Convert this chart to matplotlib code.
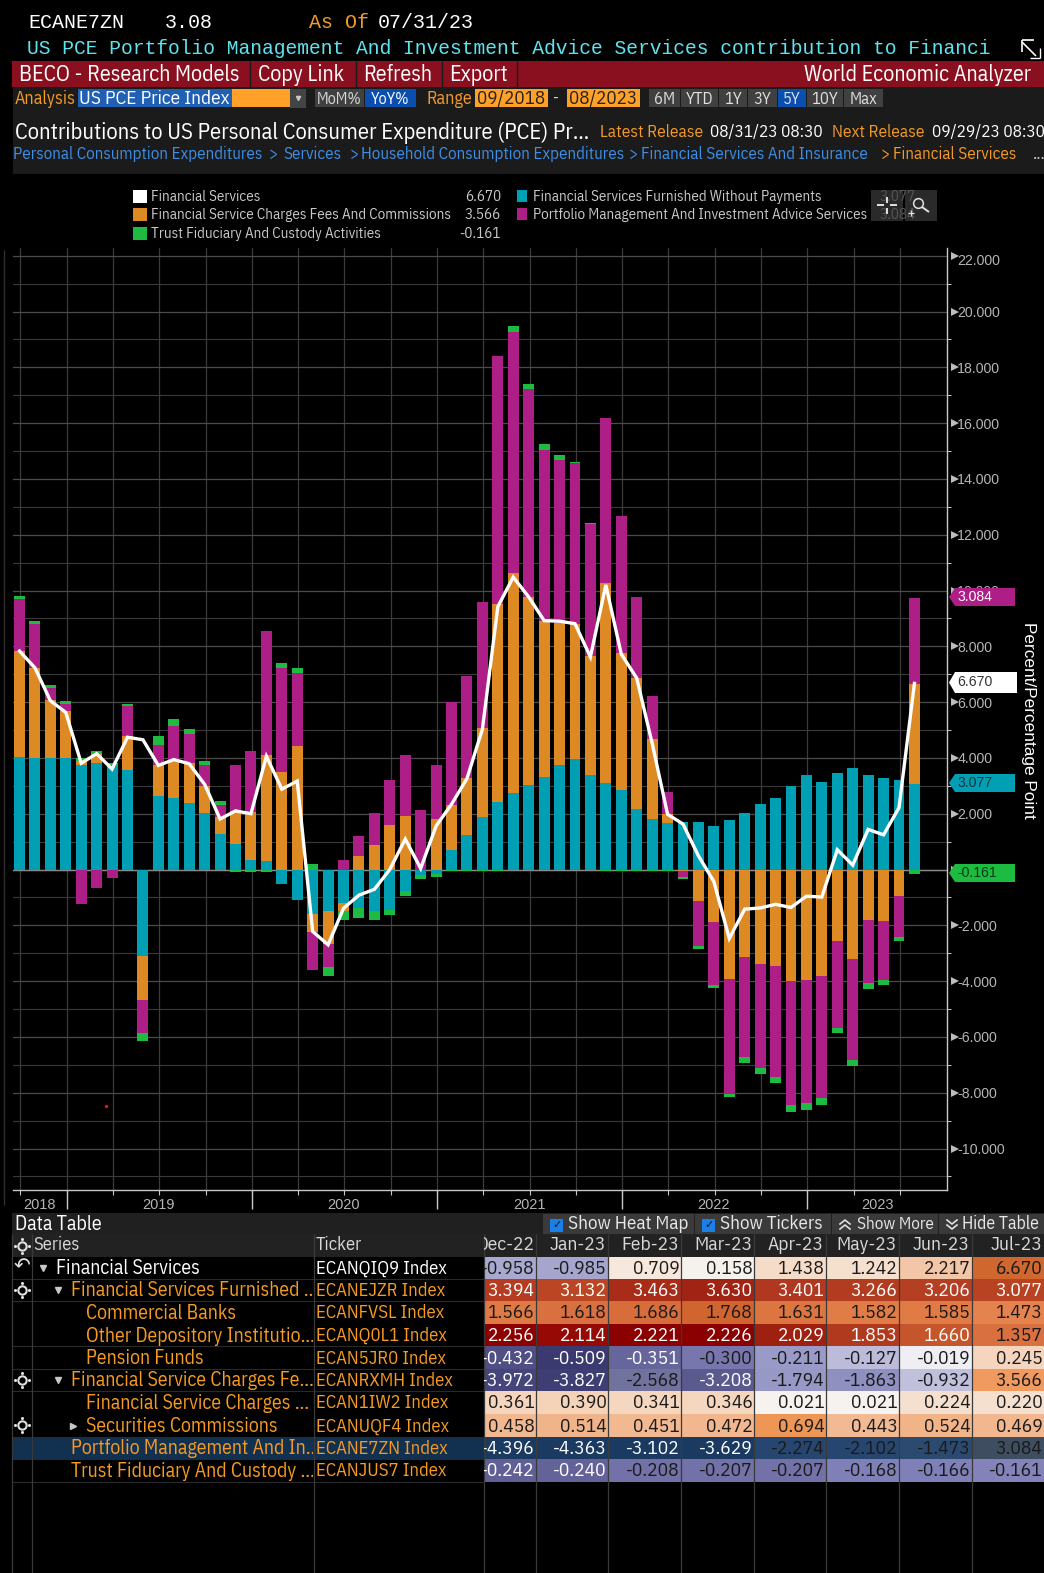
import matplotlib
matplotlib.use('Agg')
import numpy as np
from matplotlib import pyplot as plt, font_manager
from matplotlib.patches import Rectangle, Polygon
from matplotlib.transforms import ScaledTranslation

W, H = 1044, 1573
# the terminal font is condensed; Lato at a smaller size is the stand-in if Plex Condensed is not there
installed = {f.name for f in font_manager.fontManager.ttflist}
if 'IBM Plex Sans Condensed' in installed:
    NARROW, SCALE = ['IBM Plex Sans Condensed', 'DejaVu Sans'], 1.0
else:
    NARROW, SCALE = ['Lato', 'DejaVu Sans'], 0.93
MONO = ['Liberation Mono', 'DejaVu Sans Mono']
PLAIN = ['Liberation Sans', 'DejaVu Sans']
plt.rcParams['font.family'] = NARROW

# monthly contributions, Sep-18 to Jul-23
furnished = [4.05, 3.98, 4.01, 3.98, 3.76, 3.80, 3.73, 3.58, -3.10, 2.65, 2.58, 2.40, 2.01, 1.26, 0.90,
             0.33, 0.30, -0.52, -1.09, -1.59, -1.48, -1.21, -1.37, -1.49, -1.44, -0.76, -0.21, -0.16, 0.69,
             1.23, 1.88, 2.42, 2.73, 3.03, 3.31, 3.74, 3.95, 3.39, 3.10, 2.85, 2.17, 1.81, 1.65, 1.69, 1.69,
             1.56, 1.77, 2.01, 2.35, 2.56, 2.99, 3.394, 3.132, 3.463, 3.630, 3.401, 3.266, 3.206, 3.077]
charges = [3.78, 3.25, 2.07, 1.71, 0.14, 0.35, 0.0, 1.22, -1.57, 1.11, 1.32, 1.40, 1.00, 0.61, 1.18,
           1.73, 3.82, 3.51, 4.44, -0.66, -1.18, -0.27, 0.49, 0.88, 1.60, 1.91, 0.0, 1.81, 1.62,
           2.04, 3.19, 7.08, 7.89, 6.73, 5.59, 5.11, 4.86, 4.26, 7.17, 4.91, 4.69, 2.86, 0.34, -0.05, -1.14,
           -1.89, -3.94, -3.15, -3.40, -3.47, -4.00, -3.972, -3.827, -2.568, -3.208, -1.794, -1.863, -0.932, 3.566]
portfolio = [1.86, 1.57, 0.43, 0.25, -1.22, -0.67, -0.31, 1.05, -1.19, 0.72, 1.23, 1.07, 0.75, 0.43, 1.65,
             2.17, 4.43, 3.72, 2.61, -1.35, -0.83, 0.35, 0.72, 1.15, 1.60, 2.20, 2.12, 1.93, 3.71,
             3.66, 4.52, 8.90, 8.63, 7.45, 6.13, 5.84, 5.75, 4.73, 5.93, 4.90, 2.90, 1.55, 0.79, -0.21, -1.61,
             -2.26, -4.12, -3.58, -3.72, -3.97, -4.44, -4.396, -4.363, -3.102, -3.629, -2.274, -2.102, -1.473, 3.084]
trust = [0.11, 0.10, 0.11, 0.11, 0.11, 0.11, 0.10, 0.09, -0.29, 0.32, 0.27, 0.18, 0.14, 0.14, -0.08,
         -0.08, -0.08, 0.17, 0.18, 0.20, -0.32, -0.32, -0.36, -0.32, -0.19, -0.19, -0.13, -0.11, -0.05,
         -0.06, -0.06, -0.06, 0.23, 0.18, 0.21, 0.15, 0.05, 0.05, -0.05, -0.05, -0.05, -0.05, -0.05, -0.09, -0.10,
         -0.11, -0.10, -0.21, -0.21, -0.23, -0.26, -0.242, -0.240, -0.208, -0.207, -0.207, -0.168, -0.166, -0.161]
total = [7.83, 7.23, 6.05, 5.63, 3.81, 4.15, 3.60, 4.74, 4.65, 3.73, 3.94, 3.79, 3.05, 1.81, 2.10,
         2.00, 4.06, 2.88, 3.17, -2.22, -2.70, -1.39, -0.92, -0.71, 0.0, 1.09, 0.04, 1.56, 2.34,
         3.26, 5.03, 9.42, 10.48, 9.77, 8.92, 8.90, 8.81, 7.62, 10.20, 7.72, 6.86, 4.53, 1.98, 1.63, 0.49,
         -0.43, -2.47, -1.42, -1.38, -1.25, -1.36, -0.958, -0.985, 0.709, 0.158, 1.438, 1.242, 2.217, 6.670]

TEAL, ORANGE, MAGENTA, GREEN = '#019fb4', '#dd8a25', '#ad1e87', '#1dbb3f'

# table
months = ['Dec-22', 'Jan-23', 'Feb-23', 'Mar-23', 'Apr-23', 'May-23', 'Jun-23', 'Jul-23']
series_names = ['Financial Services', 'Financial Services Furnished …', 'Commercial Banks',
                'Other Depository Institutio…', 'Pension Funds', 'Financial Service Charges Fe…',
                'Financial Service Charges …', 'Securities Commissions', 'Portfolio Management And In…',
                'Trust Fiduciary And Custody …']
tickers = ['ECANQIQ9 Index', 'ECANEJZR Index', 'ECANFVSL Index', 'ECANQ0L1 Index', 'ECAN5JR0 Index',
           'ECANRXMH Index', 'ECAN1IW2 Index', 'ECANUQF4 Index', 'ECANE7ZN Index', 'ECANJUS7 Index']
table_values = [
    ['-0.958', '-0.985', '0.709', '0.158', '1.438', '1.242', '2.217', '6.670'],
    ['3.394', '3.132', '3.463', '3.630', '3.401', '3.266', '3.206', '3.077'],
    ['1.566', '1.618', '1.686', '1.768', '1.631', '1.582', '1.585', '1.473'],
    ['2.256', '2.114', '2.221', '2.226', '2.029', '1.853', '1.660', '1.357'],
    ['-0.432', '-0.509', '-0.351', '-0.300', '-0.211', '-0.127', '-0.019', '0.245'],
    ['-3.972', '-3.827', '-2.568', '-3.208', '-1.794', '-1.863', '-0.932', '3.566'],
    ['0.361', '0.390', '0.341', '0.346', '0.021', '0.021', '0.224', '0.220'],
    ['0.458', '0.514', '0.451', '0.472', '0.694', '0.443', '0.524', '0.469'],
    ['-4.396', '-4.363', '-3.102', '-3.629', '-2.274', '-2.102', '-1.473', '3.084'],
    ['-0.242', '-0.240', '-0.208', '-0.207', '-0.207', '-0.168', '-0.166', '-0.161'],
]
heat_colors = [
    ['#a9a9d0', '#a5a5cd', '#f6e8dd', '#f5f2ee', '#f5dcc9', '#f5dfcd', '#f2c6a6', '#d0672f'],
    ['#b53c20', '#bb4623', '#a82c18', '#a02314', '#b03720', '#b23c20', '#b53f22', '#b84322'],
    ['#e07a45', '#d97040', '#d86d3c', '#d0652f', '#dc7540', '#e07c45', '#e07b45', '#e5834f'],
    ['#8b0000', '#950a04', '#8b0000', '#8b0000', '#a0200f', '#b03a1d', '#c5562b', '#d97040'],
    ['#4f4f85', '#3a3a70', '#66669d', '#7777ad', '#9a9ac8', '#bcbcda', '#efeff3', '#f5d5bd'],
    ['#45457c', '#3e3e75', '#72729f', '#5a5a8f', '#9898c6', '#8f8fc0', '#c0c0dc', '#f09a5f'],
    ['#f5d5bd', '#f5d3b9', '#f5d7bf', '#f5d6be', '#f5f2ef', '#f5f2ef', '#f5e0d0', '#f5e0d0'],
    ['#f2b990', '#f0b48a', '#f2b990', '#f2b78e', '#ee9655', '#f2ba93', '#f0b488', '#f2b78e'],
    ['#1b3a62', '#1b3a62', '#1b3a62', '#1b3a62', '#27466f', '#27466f', '#2c4a70', '#3e4d60'],
    ['#606096', '#63639a', '#7272a8', '#7272a8', '#7272a8', '#8080b8', '#8080b8', '#8383ba'],
]
white_cells = [[], range(8), [], range(7), range(3), [0, 1, 3], [], [], range(4), [0, 1]]

fig = plt.figure(figsize=(W / 100, H / 100), dpi=100, facecolor='black')


def axes_from_pixels(left, top, right, bottom):
    return [left / W, 1 - bottom / H, (right - left) / W, (bottom - top) / H]


# --- chart ---
px_left, px_right, px_top, px_bottom = 13, 947.5, 248, 1190
bar_x0, bar_step = 19.5, 15.43
zero_y, unit_y = 869.5, 27.9

ax = fig.add_axes(axes_from_pixels(px_left, px_top, px_right, px_bottom), facecolor='black')
ax.set_xlim((px_left - bar_x0) / bar_step, (px_right - bar_x0) / bar_step)
ax.set_ylim((zero_y - px_bottom) / unit_y, (zero_y - px_top) / unit_y)

x = np.arange(len(total))
pos_base = np.zeros(len(total))
neg_base = np.zeros(len(total))
for values, color in [(furnished, TEAL), (charges, ORANGE), (portfolio, MAGENTA), (trust, GREEN)]:
    v = np.array(values)
    base = np.where(v >= 0, pos_base, neg_base)
    ax.bar(x, v, 0.71, bottom=base, color=color, linewidth=0, zorder=3)
    pos_base += np.where(v >= 0, v, 0)
    neg_base += np.where(v < 0, v, 0)
ax.plot(x, total, color='white', linewidth=2.4, zorder=4, solid_joinstyle='miter')
ax.axhline(0, color='#8a8a8a', linewidth=1, zorder=2)

ax.set_yticks(np.arange(-10, 23, 2))
ax.set_yticks(np.arange(-11, 22, 2), minor=True)
ax.set_yticklabels(['%.3f' % v for v in np.arange(-10, 23, 2)])
ax.yaxis.tick_right()
ax.set_xticks(np.arange(0, 60, 3) + 0.06)
ax.set_xticklabels([])
ax.grid(True, which='major', axis='y', color='#4b4b4b', linewidth=0.9, zorder=1)
ax.grid(True, which='minor', axis='y', color='#3a3a3a', linewidth=0.8, zorder=1)
ax.grid(True, which='major', axis='x', color='#3c3c3c', linewidth=0.9, zorder=1)
ax.tick_params(axis='y', which='major', length=0, pad=7, labelsize=10.2, labelcolor='#b4b4b4')
ax.tick_params(axis='y', which='minor', length=3, width=0.7, color='#c8c8c8')
ax.tick_params(axis='x', which='major', length=3.5, width=0.8, color='#c8c8c8')
for lbl in ax.get_yticklabels():
    lbl.set_family(PLAIN)
top_label = ax.get_yticklabels()[-1]
top_label.set_transform(top_label.get_transform() + ScaledTranslation(0, -4 / 100, fig.dpi_scale_trans))
for side in ['top', 'left']:
    ax.spines[side].set_visible(False)
for side in ['right', 'bottom']:
    ax.spines[side].set_color('#c8c8c8')
    ax.spines[side].set_linewidth(1)
# triangle ticks on the right axis
ax.plot(np.ones(17) + 0.0075, np.arange(-10, 23, 2), linestyle='none', marker='>', markersize=5.5,
        color='#bdbdbd', markeredgewidth=0, transform=ax.get_yaxis_transform(), clip_on=False, zorder=5)
# year separators below the axis
ax.vlines(np.arange(3, 60, 12) + 0.06, -19 / (px_bottom - px_top), 0, color='#c8c8c8', linewidth=1,
          transform=ax.get_xaxis_transform(), clip_on=False)
ax.yaxis.set_label_position('right')
ax.set_ylabel('Percent/Percentage Point', rotation=270, color='white', fontsize=12.4, family=PLAIN)
ax.yaxis.set_label_coords((1036 - px_left) / (px_right - px_left), (px_bottom - 720) / (px_bottom - px_top))

# --- everything around the chart, in pixel coordinates ---
ov = fig.add_axes([0, 0, 1, 1], zorder=10)
ov.set_xlim(0, W)
ov.set_ylim(H, 0)
ov.axis('off')
ov.patch.set_alpha(0)


def box(x0, y0, x1, y1, color, **kw):
    ov.add_patch(Rectangle((x0, y0), x1 - x0, y1 - y0, facecolor=color, edgecolor='none', **kw))


def txt(x, y, s, color='white', px=16, ha='left', family=None, **kw):
    # narrow text sits about a pixel high with va=center
    if family:
        return ov.text(x, y, s, color=color, fontsize=px * 0.72, ha=ha, va='center', family=family, **kw)
    return ov.text(x, y + 1, s, color=color, fontsize=px * 0.72 * SCALE, ha=ha, va='center', family=NARROW, **kw)


def clipped(t, x0, y0, x1, y1):
    t.set_clip_on(True)
    t.set_clip_path(Rectangle((x0, y0), x1 - x0, y1 - y0, transform=ov.transData))


def line(x0, y0, x1, y1, color='#333333', lw=0.8, **kw):
    ov.plot([x0, x1], [y0, y1], color=color, linewidth=lw, solid_capstyle='butt', **kw)


AMBER = '#f39a28'
CYAN = '#5de3ee'
LINK = '#3e8fe8'

# header
txt(28, 22, 'ECANE7ZN', px=20, family=MONO)
txt(165, 22, '3.08', px=20, family=MONO)
txt(309, 22, 'As Of', AMBER, px=20, family=MONO)
txt(378, 22, '07/31/23', px=20, family=MONO)
txt(27, 48, 'US PCE Portfolio Management And Investment Advice Services contribution to Financi',
    CYAN, px=19.7, family=MONO)
line(1022, 40, 1034, 40, 'white', 1.2)
line(1022, 40, 1022, 52, 'white', 1.2)
line(1022, 42, 1036, 56, 'white', 1.2)
line(1030, 58, 1040, 58, 'white', 1.0)
line(1040, 48, 1040, 58, 'white', 1.0)

box(12, 61, W, 87, '#8a1020')
for sx in [250, 356, 442, 517]:
    line(sx, 61, sx, 87, '#1a1a1a', 1)
txt(19, 74, 'BECO - Research Models', px=22)
txt(258, 74, 'Copy Link', px=22)
txt(363, 74, 'Refresh', px=22)
txt(449, 74, 'Export', px=22)
txt(1031, 74, 'World Economic Analyzer', px=22, ha='right')

box(13, 87, W, 174, '#1b1b1b')
txt(15, 98, 'Analysis', AMBER, px=18)
box(78, 89, 232, 107, '#1f5fb4')
box(232, 89, 290, 107, '#ffa028')
box(290, 89, 306, 108, '#444444')
txt(79, 98, 'US PCE Price Index', px=19.3)
ov.plot([298], [98], marker='v', markersize=3, color='#c8c8c8', linestyle='none')
box(315, 89, 364, 107, '#404040')
txt(339, 98, 'MoM%', '#d8d8d8', px=16, ha='center')
box(365, 89, 416, 107, '#0a4fb0')
txt(390, 98, 'YoY%', 'white', px=16, ha='center')
txt(427, 98, 'Range', AMBER, px=18)
box(475, 89, 548, 107, '#ffa028')
txt(511, 98, '09/2018', '#222222', px=19, ha='center')
txt(556, 98, '-', '#d8d8d8', px=16, ha='center')
box(567, 89, 640, 107, '#ffa028')
txt(603, 98, '08/2023', '#222222', px=19, ha='center')
for bx0, bx1, label, col in [(649, 680, '6M', '#404040'), (681, 718, 'YTD', '#404040'), (719, 747, '1Y', '#404040'),
                             (748, 777, '3Y', '#404040'), (778, 806, '5Y', '#0a4fb0'), (807, 843, '10Y', '#404040'),
                             (844, 883, 'Max', '#404040')]:
    box(bx0, 89, bx1, 107, col)
    txt((bx0 + bx1) / 2, 98, label, '#e0e0e0', px=16.5, ha='center')

txt(15, 132, 'Contributions to US Personal Consumer Expenditure (PCE) Pr…', px=22.6)
txt(600, 131, 'Latest Release', AMBER, px=17.2)
txt(710, 131, '08/31/23 08:30', px=17.2)
txt(832, 131, 'Next Release', AMBER, px=17.2)
txt(932, 131, '09/29/23 08:30', px=17.2)
crumbs = [(13, 'Personal Consumption Expenditures', LINK), (269, '>', LINK), (283, 'Services', LINK), (350, '>', LINK),
          (361, 'Household Consumption Expenditures', LINK), (629, '>', LINK),
          (641, 'Financial Services And Insurance', LINK), (881, '>', AMBER), (893, 'Financial Services', AMBER),
          (1033, '...', '#d0d0d0')]
for cx, label, col in crumbs:
    txt(cx, 153, label, col, px=16.9)

# legend
LEG = '#c9c9c9'
legend_rows = [(196, 133, 'white', 'Financial Services', '6.670'),
               (214, 133, ORANGE, 'Financial Service Charges Fees And Commissions', '3.566'),
               (233, 133, GREEN, 'Trust Fiduciary And Custody Activities', '-0.161')]
for ly, lx, col, label, val in legend_rows:
    box(lx, ly - 6.5, lx + 13.5, ly + 6.5, col)
    txt(151, ly, label, LEG, px=15)
    txt(501, ly, val, LEG, px=15, ha='right')
for ly, col, label in [(196, TEAL, 'Financial Services Furnished Without Payments'),
                       (214, MAGENTA, 'Portfolio Management And Investment Advice Services')]:
    box(517, ly - 6, 527, ly + 6, col)
    txt(533, ly, label, LEG, px=15)
box(871, 190, 903, 221, '#2a2a2a', zorder=4)
box(905, 190, 937, 221, '#2a2a2a', zorder=4)
txt(879, 196, '3.077', '#555555', px=15, zorder=5)
txt(879, 214, '3.084', '#555555', px=15, zorder=5)
for x0, y0, x1, y1 in [(877, 205, 884, 205), (890, 205, 897, 205), (887, 197, 887, 203), (887, 208, 887, 214)]:
    line(x0, y0, x1, y1, 'white', 1.2, zorder=6)
ov.plot([918], [203], marker='o', markersize=7, markerfacecolor='none', markeredgecolor='#e0e0e0',
        markeredgewidth=1.1, linestyle='none', zorder=6)
line(922, 207, 929, 212, '#e0e0e0', 1.4, zorder=6)
line(908, 213, 914, 213, '#e0e0e0', 0.9, zorder=6)
line(911, 210, 911, 216, '#e0e0e0', 0.9, zorder=6)

# value tags on the right of the chart
for ya, yb, xr, col, label, tcol in [(588, 606, 1015, MAGENTA, '3.084', 'white'), (672, 693, 1017, 'white', '6.670', '#333333'),
                                     (774, 792, 1015, TEAL, '3.077', '#10343a'), (864, 882, 1015, GREEN, '-0.161', '#0c3a18')]:
    ov.add_patch(Polygon([(949, (ya + yb) / 2), (955, ya), (xr, ya), (xr, yb), (955, yb)], facecolor=col, edgecolor='none'))
    txt(957, (ya + yb) / 2, label, tcol, px=14, family=PLAIN)

# stray red dot and left rule of the chart
ov.plot([106], [1105.5], marker='o', markersize=2.5, color='#e8101a', markeredgewidth=0, linestyle='none')
line(4, 250, 4, 1205, '#2e2e2e', 1)

year_labels = ['2018', '2019', '2020', '2021', '2022', '2023']
year_pos = [39, 158, 344, 529, 714, 877]
for yx, label in zip(year_pos, year_labels):
    txt(yx, 1205, label, '#b4b4b4', px=14.5, ha='center', family=PLAIN)

# data table
box(12, 1213, W, 1234, '#202020')
txt(15, 1223, 'Data Table', px=20)
for bx0, bx1, label, tick, tx, tpx in [(543, 694, 'Show Heat Map', True, 568, 19), (695, 831, 'Show Tickers', True, 720, 19),
                                       (832, 938, 'Show More', False, 857, 17), (939, W, 'Hide Table', False, 962, 17.6)]:
    box(bx0, 1214, bx1, 1234, '#3a3a3a')
    txt(tx, 1223, label, '#e8e8e8', px=tpx)
    if tick:
        box(bx0 + 7, 1219, bx0 + 20, 1232, '#1c7fe8')
        txt(bx0 + 13.5, 1225, '✓', '#101010', px=11, ha='center', family=['DejaVu Sans'])
    else:
        cx = bx0 + 13
        sign = -1 if label == 'Show More' else 1
        for cy in [1220, 1225]:
            ov.plot([cx - 5, cx, cx + 5], [cy + 2 - sign * 2, cy + 2 + sign * 2, cy + 2 - sign * 2],
                    color='#e0e0e0', linewidth=1.2)

box(12, 1234, W, 1257, '#222222')
row_y = [1257, 1279, 1301, 1324, 1346, 1369, 1391, 1414, 1437, 1459, 1482]
col_x = [484, 536, 608, 681, 754, 826, 899, 972, W]
name_x = [56, 71, 86, 86, 86, 71, 86, 86, 71, 71]
box(12, row_y[8], 484, row_y[9], '#12304f')

txt(33, 1244, 'Series', '#d8d8d8', px=18.5)
txt(316, 1244, 'Ticker', '#d8d8d8', px=18.5)
for j, m in enumerate(months):
    t = txt(col_x[j + 1] - 2, 1244, m, '#d8d8d8', px=19.5, ha='right')
    clipped(t, col_x[j], 1234, col_x[j + 1], 1257)

for i, name in enumerate(series_names):
    yc = (row_y[i] + row_y[i + 1]) / 2
    col = 'white' if i == 0 else '#f59a23'
    t = txt(name_x[i], yc, name, col, px=19.8)
    clipped(t, 12, row_y[i], 313, row_y[i + 1])
    txt(316, yc, tickers[i], col, px=18.7)
    for j in range(8):
        box(col_x[j], row_y[i], col_x[j + 1], row_y[i + 1], heat_colors[i][j])
        tc = 'white' if j in white_cells[i] else '#1a1a1a'
        t = txt(col_x[j + 1] - 1.5, yc, table_values[i][j], tc, px=19.5, ha='right')
        clipped(t, col_x[j], row_y[i], col_x[j + 1], row_y[i + 1])

# outline arrows and row markers
for i, xm, mk in [(0, 43, 'v'), (1, 58, 'v'), (5, 58, 'v'), (7, 73, '>')]:
    ov.plot([xm], [(row_y[i] + row_y[i + 1]) / 2], marker=mk, markersize=4, color='#c8c8c8', linestyle='none')
for yc in [1246, 1290, 1380, 1425]:
    ov.plot([22], [yc], marker='o', markersize=6, markerfacecolor='none', markeredgecolor='#e0e0e0',
            markeredgewidth=1.5, linestyle='none')
    ov.plot([22, 22, 15, 29], [yc - 7, yc + 7, yc, yc], marker='o', markersize=1.2, color='#e0e0e0', linestyle='none')
txt(22, 1267, '↶', '#e0e0e0', px=20, ha='center', family=['DejaVu Sans'])

for ry in [1279, 1301, 1346, 1369, 1391, 1437, 1459, 1482]:
    line(12, ry, 484, ry, '#2a2a2a', 0.8)
for cx in [12, 32, 314, 484, 536, 608, 681, 754, 826, 899, 972]:
    line(cx, 1234, cx, H, '#3a3a3a', 0.9)

fig.savefig('out.png', dpi=100, facecolor='black')
